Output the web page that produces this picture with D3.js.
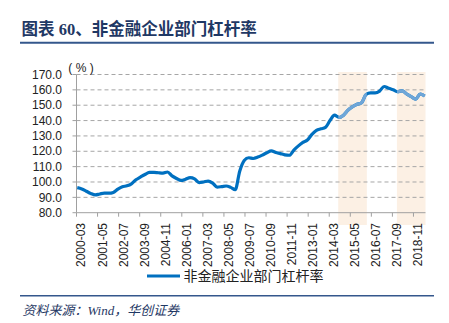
<!DOCTYPE html>
<html><head><meta charset="utf-8">
<script src="https://cdn.jsdelivr.net/npm/d3@7"></script>
<style>body{margin:0;background:#fff}svg{display:block}</style>
</head><body><svg id="c" width="449" height="323"></svg>
<script>
const titleText = "图表 60、非金融企业部门杠杆率";
const sourceText = "资料来源：Wind，华创证券";
const seriesName = "非金融企业部门杠杆率";
const unitLabel = "( % )";
const firstMonth = "2000-03";
const lastMonth = "2019-06";
// quarterly values, 2000-03 ... 2019-06
const quarterValues = [
  96.3, 95.5, 94.0, 92.5, 91.6, 92.2, 92.7, 92.7, 93.2, 95.3,
  96.9, 97.5, 98.8, 101.4, 103.2, 104.9, 106.2, 106.3, 106.0, 105.8,
  106.5, 104.0, 102.3, 101.0, 101.8, 102.8, 102.0, 99.6, 100.0, 100.6,
  99.3, 96.7, 97.0, 97.4, 96.5, 95.0, 107.0, 114.0, 115.8, 115.3,
  116.2, 117.5, 119.0, 120.2, 119.2, 118.5, 117.7, 117.4, 120.8, 123.5,
  125.8, 127.3, 131.0, 133.6, 134.6, 135.6, 140.0, 143.5, 142.0, 143.5,
  146.8, 149.0, 150.6, 151.6, 157.0, 158.0, 158.0, 159.2, 162.2, 161.0,
  160.0, 158.8, 159.4, 157.3, 155.6, 154.0, 157.3, 156.0
];
const shadedPeriods = [["2014-09", "2016-03"], ["2017-12", "2019-06"]];
const tickLabels = ["2000-03","2001-05","2002-07","2003-09","2004-11","2006-01","2007-03","2008-05","2009-07","2010-09","2011-11","2013-01","2014-03","2015-05","2016-07","2017-09","2018-11"];
const yTicks = [80, 90, 100, 110, 120, 130, 140, 150, 160, 170];

const darkBlue = "#0070C0", lightBlue = "#6FA6D8", shade = "#FCF0E4";
const gridColor = "#A6A6A6", axisColor = "#A0A0A0", navy = "#1F3864";
const numFont = "'Liberation Sans', Arial, sans-serif";
const cjkFont = "'Noto Sans CJK SC', sans-serif";

function monthSeq(a, b) {
  let [y, m] = a.split("-").map(Number);
  const [y2, m2] = b.split("-").map(Number);
  const out = [];
  while (y < y2 || (y === y2 && m <= m2)) {
    out.push(y + "-" + String(m).padStart(2, "0"));
    m++; if (m > 12) { m = 1; y++; }
  }
  return out;
}
const months = monthSeq(firstMonth, lastMonth);
const quarters = months.filter((d, i) => i % 3 === 0);
const data = quarters.map((d, i) => ({ date: d, value: quarterValues[i] }));

const svg = d3.select("#c");
const x = d3.scaleBand().domain(months).range([76.5, 425.5]).padding(0);
const bw = x.bandwidth();
const y = d3.scaleLinear().domain([80, 170]).range([212.7, 74.5]);
const xL = x.range()[0], xR = x.range()[1];

// shaded periods
const clip = svg.append("defs").append("clipPath").attr("id", "shadeClip");
shadedPeriods.forEach(([a, b]) => {
  const x0 = x(a), x1 = x(b) + bw;
  svg.append("rect").attr("x", x0).attr("y", 72).attr("width", x1 - x0).attr("height", 153).attr("fill", shade);
  clip.append("rect").attr("x", x0).attr("y", 0).attr("width", x1 - x0).attr("height", 323);
});

// gridlines
svg.append("g").selectAll("line").data(yTicks.filter(v => v > 80)).join("line")
  .attr("x1", xL).attr("x2", xR).attr("y1", d => y(d)).attr("y2", d => y(d))
  .attr("stroke", gridColor).attr("stroke-width", 1).attr("stroke-dasharray", "4,3");

// y axis
svg.append("line").attr("x1", xL).attr("x2", xL).attr("y1", y(170)).attr("y2", y(80)).attr("stroke", axisColor);
svg.append("g").selectAll("line").data(yTicks).join("line")
  .attr("x1", xL - 4).attr("x2", xL).attr("y1", d => y(d)).attr("y2", d => y(d)).attr("stroke", axisColor);
svg.append("g").selectAll("text").data(yTicks).join("text")
  .attr("x", 62).attr("y", d => y(d)).attr("dy", "0.35em").attr("text-anchor", "end")
  .attr("font-family", numFont).attr("font-size", 12).attr("fill", "#222")
  .text(d3.format(".1f"));
svg.append("text").attr("x", 81).attr("y", 68).attr("dy", "0.35em").attr("text-anchor", "middle")
  .attr("font-family", numFont).attr("font-size", 12).attr("fill", "#222").text(unitLabel);

// x axis
svg.append("line").attr("x1", xL).attr("x2", xR).attr("y1", y(80)).attr("y2", y(80)).attr("stroke", axisColor);
svg.append("g").selectAll("line").data(tickLabels).join("line")
  .attr("x1", d => x(d)).attr("x2", d => x(d)).attr("y1", y(80)).attr("y2", y(80) + 4).attr("stroke", axisColor);
svg.append("g").selectAll("text").data(tickLabels).join("text")
  .attr("transform", d => `translate(${x(d) + bw / 2 + 4},223) rotate(-90)`)
  .attr("text-anchor", "end").attr("dy", "0.35em")
  .attr("font-family", numFont).attr("font-size", 12).attr("fill", "#222")
  .text(d => d);

// line
const line = d3.line().x(d => x(d.date) + bw / 2).y(d => y(d.value)).curve(d3.curveMonotoneX);
svg.append("path").datum(data).attr("d", line).attr("fill", "none")
  .attr("stroke", darkBlue).attr("stroke-width", 3.2).attr("stroke-linejoin", "round");
svg.append("path").datum(data).attr("d", line).attr("fill", "none").attr("clip-path", "url(#shadeClip)")
  .attr("stroke", lightBlue).attr("stroke-width", 3.2).attr("stroke-linejoin", "round");

// legend
svg.append("line").attr("x1", 147).attr("x2", 180).attr("y1", 276).attr("y2", 276)
  .attr("stroke", darkBlue).attr("stroke-width", 3.2);
svg.append("text").attr("x", 183.5).attr("y", 276).attr("dy", "0.35em")
  .attr("font-family", cjkFont).attr("font-size", 14).attr("fill", "#222").text(seriesName);

// title & rules
svg.append("text").attr("x", 21.5).attr("y", 34.5)
  .attr("font-family", "'Liberation Serif', 'Noto Sans CJK SC', serif").attr("font-weight", 700)
  .attr("font-size", 16.5).attr("fill", navy).text(titleText);
svg.append("line").attr("x1", 20).attr("x2", 434).attr("y1", 42.7).attr("y2", 42.7)
  .attr("stroke", "#34578C").attr("stroke-width", 2);
svg.append("line").attr("x1", 20).attr("x2", 434).attr("y1", 295.7).attr("y2", 295.7)
  .attr("stroke", "#34578C").attr("stroke-width", 1.5);
svg.append("text").attr("x", 22.5).attr("y", 315)
  .attr("font-family", "'Liberation Serif', 'Noto Sans CJK SC', serif").attr("font-style", "italic")
  .attr("font-size", 13).attr("fill", navy).text(sourceText);
</script>
</body></html>
